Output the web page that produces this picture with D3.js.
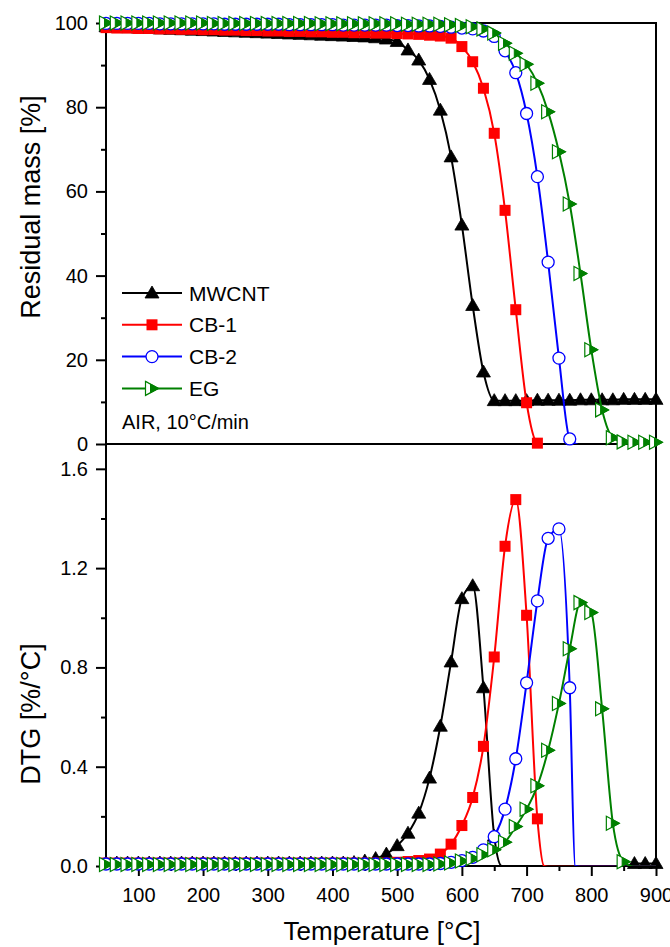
<!DOCTYPE html>
<html><head><meta charset="utf-8">
<script src="https://cdn.jsdelivr.net/npm/d3@7"></script>
<style>
body{margin:0;background:#fff}
text{font-family:"Liberation Sans",Arial,Helvetica,sans-serif;fill:#000}
</style>
</head><body>
<svg id="chart" width="670" height="947"></svg>
<script>
// ---------------- DATA ----------------
const temps = [50, 66.7, 83.3, 100, 116.7, 133.3, 150, 166.7, 183.3, 200, 216.7, 233.3, 250, 266.7, 283.3, 300,
  316.7, 333.3, 350, 366.7, 383.3, 400, 416.7, 433.3, 450, 466.7, 483.3, 500, 516.7, 533.3, 550, 566.7, 583.3,
  600, 616.7, 633.3, 650, 666.7, 683.3, 700, 716.7, 733.3, 750, 766.7, 783.3, 800, 816.7, 833.3, 850, 866.7, 883.3, 900];

const seriesNames = ["MWCNT", "CB-1", "CB-2", "EG"];

// Residual mass [%]
const tgaMWCNT = [99.1, 99.0, 98.9, 98.8, 98.7, 98.6, 98.5, 98.4, 98.3, 98.2, 98.1, 98.0, 97.9, 97.8, 97.7, 97.6,
  97.5, 97.4, 97.3, 97.2, 97.1, 97.0, 96.9, 96.8, 96.7, 96.5, 96.2, 95.6, 93.6, 91.2, 86.6, 79.3, 68.2,
  52.0, 32.9, 17.1, 10.3, 10.3, 10.3, 10.3, 10.4, 10.4, 10.4, 10.4, 10.5, 10.5, 10.5, 10.5, 10.6, 10.6, 10.6, 10.6];
const tgaCB1 = [98.9, 98.8, 98.8, 98.7, 98.7, 98.6, 98.6, 98.5, 98.5, 98.4, 98.4, 98.3, 98.3, 98.2, 98.2, 98.1,
  98.1, 98.0, 98.0, 97.9, 97.9, 97.8, 97.8, 97.7, 97.7, 97.6, 97.6, 97.5, 97.4, 97.3, 97.1, 96.9, 96.4,
  94.4, 90.8, 84.5, 73.8, 55.5, 31.9, 9.8, 0.2, -0.3, -0.3, -0.3, -0.3, -0.3, -0.3, -0.3, -0.3, -0.3, -0.3, -0.3];
const tgaCB2 = [99.9, 99.9, 99.9, 99.9, 99.9, 99.8, 99.8, 99.8, 99.8, 99.8, 99.8, 99.7, 99.7, 99.7, 99.7, 99.7,
  99.7, 99.6, 99.6, 99.6, 99.6, 99.6, 99.5, 99.5, 99.5, 99.5, 99.5, 99.4, 99.4, 99.3, 99.3, 99.2, 99.0,
  98.8, 98.6, 98.1, 96.8, 93.4, 88.2, 78.5, 63.5, 43.2, 20.4, 1.2, -0.3, -0.3, -0.3, -0.3, -0.3, -0.3, -0.3, -0.3];
const tgaEG = [100.0, 100.0, 100.0, 100.0, 100.0, 100.0, 100.0, 100.0, 100.0, 100.0, 99.9, 99.9, 99.9, 99.9, 99.9, 99.9,
  99.9, 99.9, 99.9, 99.9, 99.8, 99.8, 99.8, 99.8, 99.8, 99.8, 99.8, 99.8, 99.7, 99.7, 99.7, 99.7, 99.6,
  99.4, 99.1, 98.6, 97.6, 95.2, 92.8, 90.2, 85.7, 78.9, 69.4, 57.0, 40.5, 22.4, 8.1, 1.5, 0.5, 0.4, 0.4, 0.4];

// DTG [%/°C]
const dtgMWCNT = [0.012, 0.012, 0.012, 0.012, 0.012, 0.012, 0.012, 0.012, 0.012, 0.012, 0.012, 0.012, 0.012, 0.012, 0.012, 0.012,
  0.012, 0.012, 0.012, 0.012, 0.012, 0.012, 0.012, 0.014, 0.02, 0.03, 0.048, 0.082, 0.132, 0.213, 0.354, 0.563, 0.822,
  1.077, 1.129, 0.718, 0.12, -0.003, -0.003, -0.003, -0.003, -0.003, -0.003, -0.003, -0.003, -0.003, -0.003, -0.003, -0.003, 0.01, 0.01, 0.01];
const dtgCB1 = [0.012, 0.012, 0.012, 0.012, 0.012, 0.012, 0.012, 0.012, 0.012, 0.012, 0.012, 0.012, 0.012, 0.012, 0.012, 0.012,
  0.012, 0.012, 0.012, 0.012, 0.012, 0.012, 0.012, 0.012, 0.012, 0.012, 0.012, 0.015, 0.018, 0.022, 0.028, 0.048, 0.088,
  0.163, 0.276, 0.482, 0.842, 1.288, 1.476, 1.010, 0.19, -0.003, -0.003, -0.003, -0.003, -0.003, -0.003, -0.003, -0.003, -0.003, -0.003, -0.003];
const dtgCB2 = [0.008, 0.008, 0.008, 0.008, 0.008, 0.008, 0.008, 0.008, 0.008, 0.008, 0.008, 0.008, 0.008, 0.008, 0.008, 0.008,
  0.008, 0.008, 0.008, 0.008, 0.008, 0.008, 0.008, 0.008, 0.008, 0.008, 0.008, 0.008, 0.008, 0.008, 0.008, 0.01, 0.015,
  0.022, 0.035, 0.065, 0.118, 0.229, 0.432, 0.738, 1.068, 1.32, 1.358, 0.718, -0.003, -0.003, -0.003, -0.003, -0.003, -0.003, -0.003, -0.003];
const dtgEG = [0.006, 0.006, 0.006, 0.006, 0.006, 0.006, 0.006, 0.006, 0.006, 0.006, 0.006, 0.006, 0.006, 0.006, 0.006, 0.006,
  0.006, 0.006, 0.006, 0.006, 0.006, 0.006, 0.006, 0.006, 0.006, 0.006, 0.006, 0.006, 0.006, 0.006, 0.006, 0.008, 0.012,
  0.02, 0.03, 0.045, 0.065, 0.096, 0.159, 0.229, 0.323, 0.466, 0.655, 0.875, 1.061, 1.021, 0.633, 0.172, 0.017, -0.003, -0.003, -0.003];

// extra line-only knots [T, value] where the recorded curve drops steeply between markers
const dtgKnotsMWCNT = [[661, 0]];
const dtgKnotsCB1 = [[727, 0]];
const dtgKnotsCB2 = [[775, 0]];
const dtgKnotsEG = [];

const xTicks = [100, 200, 300, 400, 500, 600, 700, 800, 900];
const xMinorTicks = [150, 250, 350, 450, 550, 650, 750, 850];
const tgaTicks = [0, 20, 40, 60, 80, 100];
const tgaMinorTicks = [10, 30, 50, 70, 90];
const dtgTicks = [0.0, 0.4, 0.8, 1.2, 1.6];
const dtgMinorTicks = [0.2, 0.6, 1.0, 1.4];

const colors = ["#000000", "#ff0000", "#0000ff", "#008000"];
const symbols = ["triangle", "square", "circle", "halfRight"];

// ---------------- LAYOUT ----------------
const L = 106, R = 656, T1 = 23, MID = 444, B = 866;
const svg = d3.select("#chart");

const x = d3.scaleLinear().domain([50, 900]).range([L, R]);
const yTop = d3.scaleLinear().domain([0, 100]).range([MID, T1]);
const yBot = d3.scaleLinear().domain([0, 1.7]).range([B, MID]);

const defs = svg.append("defs");
defs.append("clipPath").attr("id", "clipTop").append("rect")
  .attr("x", L).attr("y", T1).attr("width", R - L).attr("height", MID - T1);
defs.append("clipPath").attr("id", "clipBot").append("rect")
  .attr("x", L).attr("y", MID).attr("width", R - L).attr("height", B - MID);

const AX_W = 2;

function styleAxis(g) {
  g.select(".domain").remove();
  g.selectAll(".tick line").attr("stroke", "#000").attr("stroke-width", AX_W);
  g.selectAll(".tick text").style("font-size", "20px").attr("fill", "#000");
}

// left axis top
svg.append("g").attr("transform", `translate(${L},0)`)
  .call(d3.axisLeft(yTop).tickValues(tgaTicks).tickSize(10).tickPadding(8).tickFormat(d3.format("d")))
  .call(styleAxis);
svg.append("g").attr("transform", `translate(${L},0)`)
  .call(d3.axisLeft(yTop).tickValues(tgaMinorTicks).tickSize(5).tickFormat(""))
  .call(styleAxis);
// left axis bottom
svg.append("g").attr("transform", `translate(${L},0)`)
  .call(d3.axisLeft(yBot).tickValues(dtgTicks).tickSize(10).tickPadding(8).tickFormat(d3.format(".1f")))
  .call(styleAxis);
svg.append("g").attr("transform", `translate(${L},0)`)
  .call(d3.axisLeft(yBot).tickValues(dtgMinorTicks).tickSize(5).tickFormat(""))
  .call(styleAxis);
// bottom axis
svg.append("g").attr("transform", `translate(0,${B})`)
  .call(d3.axisBottom(x).tickValues(xTicks).tickSize(10).tickPadding(12).tickFormat(d3.format("d")))
  .call(styleAxis);
svg.append("g").attr("transform", `translate(0,${B})`)
  .call(d3.axisBottom(x).tickValues(xMinorTicks).tickSize(5).tickFormat(""))
  .call(styleAxis);

// frame lines
const frame = svg.append("g").attr("stroke", "#000").attr("stroke-width", AX_W).attr("fill", "none");
frame.append("line").attr("x1", L).attr("x2", L).attr("y1", T1 - 1).attr("y2", B + 1);
frame.append("line").attr("x1", R).attr("x2", R).attr("y1", T1 - 1).attr("y2", B + 1);
frame.append("line").attr("x1", L - 1).attr("x2", R + 1).attr("y1", T1).attr("y2", T1);
frame.append("line").attr("x1", L).attr("x2", R).attr("y1", MID).attr("y2", MID);
frame.append("line").attr("x1", L - 1).attr("x2", R + 1).attr("y1", B).attr("y2", B);

// axis titles
svg.append("text").attr("transform", `translate(40,207) rotate(-90)`)
  .attr("text-anchor", "middle").style("font-size", "27px").text("Residual mass [%]");
svg.append("text").attr("transform", `translate(40,714) rotate(-90)`)
  .attr("text-anchor", "middle").style("font-size", "27px").text("DTG [%/°C]");
svg.append("text").attr("x", (L + R) / 2 + 1).attr("y", 940)
  .attr("text-anchor", "middle").style("font-size", "26px").text("Temperature [°C]");

// ---------------- MARKERS ----------------
function drawMarker(g, type, color, cx, cy) {
  const m = g.append("g").attr("transform", `translate(${cx},${cy})`);
  if (type === "triangle") {
    m.append("path").attr("d", "M0,-7L7,5L-7,5Z").attr("fill", color).attr("stroke", color).attr("stroke-width", 0.8);
  } else if (type === "square") {
    m.append("rect").attr("x", -5.5).attr("y", -5.5).attr("width", 11).attr("height", 11).attr("fill", color);
  } else if (type === "circle") {
    m.append("circle").attr("r", 6).attr("fill", "#fff").attr("stroke", color).attr("stroke-width", 1.3);
  } else if (type === "halfRight") {
    m.append("path").attr("d", "M-6.5,-7L6.5,0L-6.5,7Z").attr("fill", "#fff").attr("stroke", color).attr("stroke-width", 1.2);
    m.append("path").attr("d", "M-1.5,-4.3L6.5,0L-1.5,4.3Z").attr("fill", color).attr("stroke", color).attr("stroke-width", 1);
  }
}

function drawSeries(panel, yScale, clipId, values, knots, i) {
  const pts = temps.map((t, k) => [t, values[k]]).concat(knots).sort((a, b) => a[0] - b[0]);
  const line = d3.line().x(d => x(d[0])).y(d => yScale(d[1])).curve(d3.curveMonotoneX);
  const g = panel.append("g");
  g.append("path").attr("d", line(pts)).attr("fill", "none")
    .attr("stroke", colors[i]).attr("stroke-width", 2).attr("clip-path", `url(#${clipId})`);
  const dom = yScale.domain();
  temps.forEach((t, k) => {
    const v = values[k];
    if (v >= dom[0] && v <= dom[1]) drawMarker(g, symbols[i], colors[i], x(t), yScale(v));
  });
}

const tgaSeries = [tgaMWCNT, tgaCB1, tgaCB2, tgaEG];
const dtgSeries = [dtgMWCNT, dtgCB1, dtgCB2, dtgEG];
const dtgKnots = [dtgKnotsMWCNT, dtgKnotsCB1, dtgKnotsCB2, dtgKnotsEG];

const topPanel = svg.append("g");
tgaSeries.forEach((vals, i) => drawSeries(topPanel, yTop, "clipTop", vals, [], i));
const botPanel = svg.append("g");
dtgSeries.forEach((vals, i) => drawSeries(botPanel, yBot, "clipBot", vals, dtgKnots[i], i));

// ---------------- LEGEND ----------------
const legend = svg.append("g");
seriesNames.forEach((name, i) => {
  const yy = 293 + i * 31.8;
  legend.append("line").attr("x1", 122).attr("x2", 182).attr("y1", yy).attr("y2", yy)
    .attr("stroke", colors[i]).attr("stroke-width", 2);
  drawMarker(legend, symbols[i], colors[i], 152, yy);
  legend.append("text").attr("x", 189).attr("y", yy).attr("dy", "0.36em")
    .style("font-size", "21px").text(name);
});
legend.append("text").attr("x", 122).attr("y", 422).attr("dy", "0.36em")
  .style("font-size", "20px").text("AIR, 10°C/min");
</script>
</body></html>
